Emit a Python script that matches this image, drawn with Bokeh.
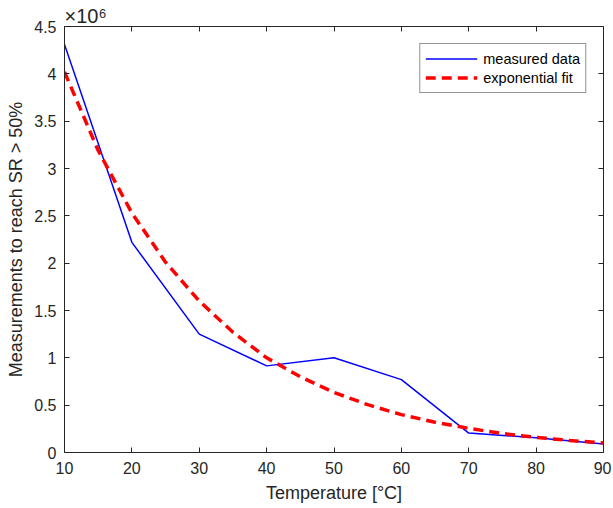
from bokeh.plotting import figure
from bokeh.models import (Range1d, FixedTicker, LinearAxis, Legend, LegendItem, Title)
from bokeh.embed import file_html
from bokeh.resources import INLINE

# ---- data ----
temp_measured = [10, 20, 30, 40, 50, 60, 70, 80, 90]
meas_measured = [4.31e6, 2.22e6, 1.25e6, 0.915e6, 1.0e6, 0.77e6, 0.205e6, 0.155e6, 0.09e6]

temp_fit = [10, 15, 20, 25, 30, 35, 40, 45, 50, 55, 60, 65, 70, 75, 80, 85, 90]
meas_fit = [4.02e6, 3.19e6, 2.53e6, 2.01e6, 1.60e6, 1.27e6, 1.0e6, 0.80e6, 0.635e6,
            0.505e6, 0.40e6, 0.32e6, 0.255e6, 0.20e6, 0.16e6, 0.127e6, 0.10e6]

x_ticks = [10, 20, 30, 40, 50, 60, 70, 80, 90]
y_ticks = [0, 0.5e6, 1e6, 1.5e6, 2e6, 2.5e6, 3e6, 3.5e6, 4e6, 4.5e6]
y_tick_labels = ["0", "0.5", "1", "1.5", "2", "2.5", "3", "3.5", "4", "4.5"]
y_exponent_label = "×10⁶"

FONT = "Liberation Sans"
AX = "#262626"

p = figure(frame_width=539, frame_height=426, output_backend="svg",
           toolbar_location=None,
           x_range=Range1d(10, 90), y_range=Range1d(0, 4.5e6),
           min_border_left=64, min_border_top=26, min_border_bottom=54,
           min_border_right=8)
p.grid.visible = False
p.outline_line_color = None
p.background_fill_color = "white"
p.border_fill_color = "white"
p.title.visible = False

def style_axis(ax, labels=True):
    ax.axis_line_color = AX
    ax.major_tick_line_color = AX
    ax.minor_tick_line_color = None
    ax.major_tick_in = 5
    ax.major_tick_out = 0
    ax.major_label_text_font = FONT
    ax.major_label_text_font_size = "16px"
    ax.major_label_text_color = AX
    ax.axis_label_text_font = FONT
    ax.axis_label_text_font_size = "18px"
    ax.axis_label_text_font_style = "normal"
    ax.axis_label_text_color = AX
    if not labels:
        ax.major_label_text_font_size = "0px"
        ax.major_label_text_alpha = 0
        ax.major_label_standoff = 0

xa = p.xaxis[0]
ya = p.yaxis[0]
style_axis(xa)
style_axis(ya)
xa.ticker = FixedTicker(ticks=x_ticks)
ya.ticker = FixedTicker(ticks=y_ticks)
ya.major_label_overrides = {t: l for t, l in zip(y_ticks, y_tick_labels)}
xa.axis_label = "Temperature [°C]"
ya.axis_label = "Measurements to reach SR > 50%"
xa.major_label_standoff = 9
xa.axis_label_standoff = 6
ya.major_label_standoff = 8
ya.axis_label_standoff = 5

top = LinearAxis(ticker=FixedTicker(ticks=x_ticks))
right = LinearAxis(ticker=FixedTicker(ticks=y_ticks))
style_axis(top, labels=False)
style_axis(right, labels=False)
p.add_layout(top, "above")
p.add_layout(right, "right")

p.add_layout(Title(text=y_exponent_label, align="left", offset=0, standoff=0,
                   text_font=FONT, text_font_size="20px", text_color=AX,
                   text_font_style="normal"), "above")

r1 = p.line(temp_measured, meas_measured, line_color="#0000FF", line_width=1.5)
r2 = p.line(temp_fit, meas_fit, line_color="#FF0000", line_width=3.5,
            line_dash="10 6")

legend = Legend(items=[LegendItem(label="measured data", renderers=[r1]),
                       LegendItem(label="exponential fit", renderers=[r2])],
                location="top_right", margin=17, padding=5, spacing=0,
                glyph_width=52, glyph_height=19, label_height=19,
                label_standoff=6,
                label_text_font=FONT, label_text_font_size="14.5px",
                label_text_color="#000000",
                border_line_color=AX, border_line_width=1,
                background_fill_color="white", background_fill_alpha=1)
p.add_layout(legend)

open("out.html", "w").write(file_html(p, INLINE))
